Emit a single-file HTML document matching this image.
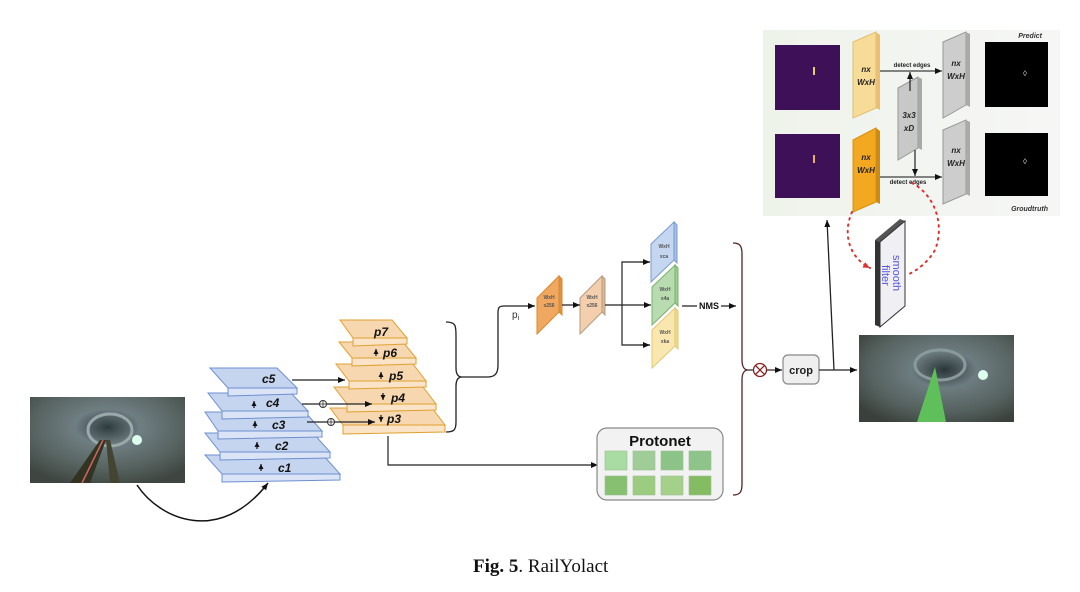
<!DOCTYPE html>
<html><head><meta charset="utf-8"><style>
html,body{margin:0;padding:0;background:#fff;}
svg{display:block;font-family:"Liberation Sans",sans-serif;}
</style></head><body>
<svg width="1080" height="592" viewBox="0 0 1080 592" xmlns="http://www.w3.org/2000/svg">
<defs>
<marker id="ar" markerWidth="8" markerHeight="8" refX="7" refY="4" orient="auto" markerUnits="userSpaceOnUse"><path d="M0,1 L7,4 L0,7 z" fill="#111"/></marker>
<marker id="sa" markerWidth="6" markerHeight="6" refX="5" refY="3" orient="auto" markerUnits="userSpaceOnUse"><path d="M0,0.5 L5,3 L0,5.5 z" fill="#111"/></marker>
<marker id="rr" markerWidth="8" markerHeight="8" refX="7" refY="4" orient="auto" markerUnits="userSpaceOnUse"><path d="M0,1 L7,4 L0,7 z" fill="#e03030"/></marker>
<radialGradient id="tun" cx="0.5" cy="0.35" r="0.7"><stop offset="0" stop-color="#2e3a3e"/><stop offset="0.3" stop-color="#6f7e82"/><stop offset="0.7" stop-color="#56625f"/><stop offset="1" stop-color="#3f4641"/></radialGradient>
<radialGradient id="tun2" cx="0.55" cy="0.4" r="0.7"><stop offset="0" stop-color="#2a3538"/><stop offset="0.3" stop-color="#6d7c80"/><stop offset="0.7" stop-color="#55615e"/><stop offset="1" stop-color="#3a403c"/></radialGradient>
<linearGradient id="pan" x1="0" y1="0" x2="1" y2="0"><stop offset="0" stop-color="#eef3ea"/><stop offset="1" stop-color="#f6f6f6"/></linearGradient>
</defs>

<!-- left photo -->
<rect x="30" y="397" width="155" height="86" fill="url(#tun)"/>
<ellipse cx="110" cy="430" rx="22" ry="16" fill="none" stroke="#9aa" stroke-width="3"/>
<circle cx="137" cy="440" r="5" fill="#dfe"/>
<polygon points="100,440 106,440 90,483 70,483" fill="#332"/>
<polygon points="106,440 110,440 120,483 110,483" fill="#443"/>
<line x1="103" y1="440" x2="82" y2="483" stroke="#c66" stroke-width="1.5"/>
<path d="M137,485 C160,520 220,545 268,483" fill="none" stroke="#111" stroke-width="1.5" marker-end="url(#ar)"/>

<!-- c plates (bottom to top) -->
<g stroke="#6d8fcf" stroke-width="1">
<polygon points="205,455 323,455 340,474 222,474" fill="#c6d5ef"/><polygon points="222,474 340,474 340,480 222,482" fill="#dae4f6"/>
<polygon points="205,433 313,433 330,452 220,452" fill="#c6d5ef"/><polygon points="220,452 330,452 330,458 220,460" fill="#dae4f6"/>
<polygon points="205,412 305,412 322,431 218,431" fill="#c6d5ef"/><polygon points="218,431 322,431 322,437 218,439" fill="#dae4f6"/>
<polygon points="208,393 291,393 308,411 222,411" fill="#c6d5ef"/><polygon points="222,411 308,411 308,417 222,419" fill="#dae4f6"/>
<polygon points="210,368 277,368 297,388 228,388" fill="#c6d5ef"/><polygon points="228,388 297,388 297,394 228,396" fill="#dae4f6"/>
</g>
<g font-weight="bold" font-style="italic" font-size="12" fill="#111">
<text x="262" y="383">c5</text><text x="266" y="407">c4</text><text x="272" y="429">c3</text><text x="275" y="450">c2</text><text x="278" y="472">c1</text>
</g>
<g stroke="#111" stroke-width="1.2">
<line x1="254" y1="408" x2="254" y2="401" marker-end="url(#sa)"/><line x1="255" y1="428" x2="255" y2="421" marker-end="url(#sa)"/><line x1="257" y1="449" x2="257" y2="442" marker-end="url(#sa)"/><line x1="261" y1="471" x2="261" y2="464" marker-end="url(#sa)"/>
</g>

<!-- p plates (bottom to top) -->
<g stroke="#e0a030" stroke-width="1">
<polygon points="330,408 432,408 445,425 343,425" fill="#f6d7b0"/><polygon points="343,425 445,425 445,432 343,434" fill="#fae3c6"/>
<polygon points="334,387 423,387 436,404 347,404" fill="#f6d7b0"/><polygon points="347,404 436,404 436,410 347,412" fill="#fae3c6"/>
<polygon points="336,364 413,364 426,381 349,381" fill="#f6d7b0"/><polygon points="349,381 426,381 426,387 349,389" fill="#fae3c6"/>
<polygon points="339,342 403,342 416,358 352,358" fill="#f6d7b0"/><polygon points="352,358 416,358 416,364 352,366" fill="#fae3c6"/>
<polygon points="340,320 392,320 407,338 353,338" fill="#f6d7b0"/><polygon points="353,338 407,338 407,344 353,346" fill="#fae3c6"/>
</g>
<g font-weight="bold" font-style="italic" font-size="12" fill="#111">
<text x="374" y="336">p7</text><text x="383" y="357">p6</text><text x="389" y="380">p5</text><text x="391" y="402">p4</text><text x="387" y="423">p3</text>
</g>
<g stroke="#111" stroke-width="1.2">
<line x1="376" y1="356" x2="376" y2="349" marker-end="url(#sa)"/><line x1="381" y1="379" x2="381" y2="372" marker-end="url(#sa)"/><line x1="383" y1="393" x2="383" y2="400" marker-end="url(#sa)"/><line x1="381" y1="415" x2="381" y2="422" marker-end="url(#sa)"/>
</g>
<!-- c to p arrows -->
<g stroke="#222" stroke-width="1.2" fill="none">
<line x1="292" y1="380" x2="345" y2="380" marker-end="url(#ar)"/>
<line x1="302" y1="404" x2="372" y2="404" marker-end="url(#ar)"/>
<line x1="307" y1="422" x2="375" y2="422" marker-end="url(#ar)"/>
</g>
<g fill="#fff" stroke="#333" stroke-width="1">
<circle cx="323" cy="404" r="3.5"/><circle cx="331" cy="422" r="3.5"/>
</g>
<g stroke="#333" stroke-width="0.8"><line x1="319.5" y1="404" x2="326.5" y2="404"/><line x1="323" y1="400.5" x2="323" y2="407.5"/><line x1="327.5" y1="422" x2="334.5" y2="422"/><line x1="331" y1="418.5" x2="331" y2="425.5"/></g>

<!-- brace p -->
<path d="M446,322 C456,322 456,326 456,336 L456,368 C456,374 458,377 462,377 C458,377 456,380 456,386 L456,422 C456,430 454,432 446,432" fill="none" stroke="#222" stroke-width="1.3"/>
<path d="M462,377 L488,377 C496,377 498,372 498,365 L498,312 C498,307 500,306 504,306 L535,306" fill="none" stroke="#222" stroke-width="1.3" marker-end="url(#ar)"/>
<text x="512" y="318" font-size="10" fill="#333">p<tspan font-size="7" dy="2">i</tspan></text>

<!-- head blocks -->
<g stroke-width="1">
<polygon points="537,298 559,276 559,312 537,334" fill="#f0a860" stroke="#d98a30"/><polygon points="559,276 562,279 562,315 559,312" fill="#e09040" stroke="#d98a30"/>
<polygon points="580,298 602,276 602,312 580,334" fill="#f3cfae" stroke="#b49a80"/><polygon points="602,276 605,279 605,315 602,312" fill="#e0b896" stroke="#b49a80"/>
<polygon points="651,244 674,222 674,260 651,282" fill="#c4d6f0" stroke="#7a9ad0"/><polygon points="674,222 677,225 677,263 674,260" fill="#a8c0e8" stroke="#7a9ad0"/>
<polygon points="652,287 675,265 675,303 652,325" fill="#b8dcb0" stroke="#7ab070"/><polygon points="675,265 678,268 678,306 675,303" fill="#9ccc90" stroke="#7ab070"/>
<polygon points="652,330 675,308 675,346 652,368" fill="#fae7b0" stroke="#e0c870"/><polygon points="675,308 678,311 678,349 675,346" fill="#f0d890" stroke="#e0c870"/>
</g>
<g font-size="5" font-weight="bold" fill="#555" text-anchor="middle">
<text x="549" y="299">WxH</text><text x="549" y="307">x256</text>
<text x="592" y="299">WxH</text><text x="592" y="307">x256</text>
<text x="664" y="248">WxH</text><text x="664" y="258">xca</text>
<text x="665" y="291">WxH</text><text x="665" y="300">x4a</text>
<text x="665" y="334">WxH</text><text x="665" y="343">xka</text>
</g>
<g stroke="#222" stroke-width="1.2" fill="none">
<line x1="562" y1="305" x2="580" y2="305" marker-end="url(#ar)"/>
<line x1="605" y1="305" x2="651" y2="305" marker-end="url(#ar)"/>
<path d="M650,262 L622,262 L622,345 L650,345" />
<line x1="640" y1="262" x2="650" y2="262" marker-end="url(#ar)"/>
<line x1="640" y1="345" x2="650" y2="345" marker-end="url(#ar)"/>
<line x1="682" y1="306" x2="736" y2="306" marker-end="url(#ar)"/>
</g>
<rect x="697" y="300" width="24" height="11" fill="#fff"/>
<text x="709" y="309" font-size="9" font-weight="bold" text-anchor="middle" fill="#111">NMS</text>

<!-- bottom line to protonet -->
<path d="M388,436 L388,465 L598,465" fill="none" stroke="#222" stroke-width="1.2" marker-end="url(#ar)"/>
<rect x="597" y="428" width="126" height="72" rx="10" fill="#f2f2f2" stroke="#888" stroke-width="1.2"/>
<text x="660" y="446" font-size="15" font-weight="bold" text-anchor="middle" fill="#111">Protonet</text>
<g stroke="#9bbf90" stroke-width="0.6">
<rect x="605" y="451" width="22" height="19" fill="#a8dca2"/><rect x="633" y="451" width="22" height="19" fill="#a0cc98"/><rect x="661" y="451" width="22" height="19" fill="#8cc488"/><rect x="689" y="451" width="22" height="19" fill="#8ec48a"/>
<rect x="605" y="476" width="22" height="19" fill="#86c070"/><rect x="633" y="476" width="22" height="19" fill="#9ccc80"/><rect x="661" y="476" width="22" height="19" fill="#a4d08a"/><rect x="689" y="476" width="22" height="19" fill="#84bc64"/>
</g>

<!-- big brace -->
<path d="M733,243 C740,243 742,246 742,254 L742,360 C742,366 744,370 748,370 C744,370 742,374 742,380 L742,484 C742,492 740,495 733,495" fill="none" stroke="#552222" stroke-width="1.3"/>
<line x1="748" y1="370" x2="753" y2="370" stroke="#222" stroke-width="1.2"/>
<circle cx="760" cy="370" r="6.5" fill="#fff" stroke="#8a2020" stroke-width="1.3"/>
<path d="M755.5,365.5 L764.5,374.5 M764.5,365.5 L755.5,374.5" stroke="#8a2020" stroke-width="1.3"/>
<line x1="767" y1="370" x2="782" y2="370" stroke="#222" stroke-width="1.2" marker-end="url(#ar)"/>
<rect x="783" y="355" width="36" height="29" rx="5" fill="#efefef" stroke="#888" stroke-width="1.2"/>
<text x="801" y="374" font-size="11" font-weight="bold" text-anchor="middle" fill="#222">crop</text>
<line x1="819" y1="370" x2="857" y2="370" stroke="#222" stroke-width="1.2" marker-end="url(#ar)"/>
<line x1="834" y1="370" x2="827" y2="220" stroke="#222" stroke-width="1.3" marker-end="url(#ar)"/>

<!-- right photo -->
<rect x="859" y="335" width="155" height="87" fill="url(#tun2)"/>
<ellipse cx="940" cy="365" rx="25" ry="15" fill="none" stroke="#8a9a9a" stroke-width="3"/>
<circle cx="983" cy="375" r="5" fill="#dfe"/>
<polygon points="935,367 917,422 946,422" fill="#5fbf5a"/>

<!-- top panel -->
<rect x="763" y="30" width="297" height="186" fill="url(#pan)"/>
<rect x="775" y="45" width="65" height="65" fill="#3d1058"/>
<rect x="775" y="134" width="65" height="64" fill="#3d1058"/>
<rect x="813" y="67" width="2" height="8" fill="#e8d060"/><rect x="813" y="155" width="2" height="8" fill="#e8b060"/>
<rect x="985" y="42" width="63" height="65" fill="#000"/>
<rect x="985" y="133" width="63" height="63" fill="#000"/>
<text x="1023" y="76" font-size="8" fill="#ccc">◊</text><text x="1023" y="164" font-size="8" fill="#ccc">◊</text>
<text x="1042" y="38" font-size="7" font-style="italic" font-weight="bold" fill="#333" text-anchor="end">Predict</text>
<text x="1048" y="211" font-size="7" font-style="italic" font-weight="bold" fill="#333" text-anchor="end">Groudtruth</text>
<polygon points="853,42 876,32 876,108 853,118" fill="#f7dc98" stroke="#e0c070"/><polygon points="876,32 880,35 880,110 876,108" fill="#eac070"/>
<polygon points="853,140 876,128 876,202 853,212" fill="#f2a820" stroke="#d89010"/><polygon points="876,128 880,131 880,204 876,202" fill="#d08a10"/>
<polygon points="898,88 918,77 918,148 898,160" fill="#c8c8c8" stroke="#999"/><polygon points="918,77 922,79 922,150 918,148" fill="#a8a8a8"/>
<polygon points="943,42 966,32 966,105 943,118" fill="#cdcdcd" stroke="#999"/><polygon points="966,32 970,34 970,107 966,105" fill="#aaa"/>
<polygon points="943,130 966,120 966,194 943,204" fill="#cdcdcd" stroke="#999"/><polygon points="966,120 970,122 970,196 966,194" fill="#aaa"/>
<g font-size="8" font-style="italic" font-weight="bold" fill="#222" text-anchor="middle">
<text x="866" y="72">nx</text><text x="866" y="85">WxH</text>
<text x="866" y="160">nx</text><text x="866" y="173">WxH</text>
<text x="909" y="118">3x3</text><text x="909" y="131">xD</text>
<text x="956" y="66">nx</text><text x="956" y="79">WxH</text>
<text x="956" y="153">nx</text><text x="956" y="166">WxH</text>
</g>
<g stroke="#111" stroke-width="1.1" fill="none">
<line x1="880" y1="71" x2="942" y2="71" marker-end="url(#ar)"/>
<line x1="880" y1="177" x2="942" y2="177" marker-end="url(#ar)"/>
<line x1="910" y1="91" x2="910" y2="72" marker-end="url(#ar)"/>
<line x1="915" y1="150" x2="915" y2="176" marker-end="url(#ar)"/>
</g>
<g font-size="6" font-weight="bold" fill="#222" text-anchor="middle">
<text x="912" y="67">detect edges</text><text x="908" y="184">detect edges</text>
</g>
<path d="M852,212 C842,235 850,258 870,268" fill="none" stroke="#e03030" stroke-width="2" stroke-dasharray="1.5,5" stroke-linecap="round" marker-end="url(#rr)"/>
<path d="M912,183 C935,195 945,225 935,250 C928,262 918,270 907,275" fill="none" stroke="#e03030" stroke-width="2" stroke-dasharray="1.5,5" stroke-linecap="round"/>
<polygon points="875,240 900,219 905,221 880,242" fill="#555"/>
<polygon points="875,240 880,242 880,327 875,325" fill="#333"/>
<polygon points="880,242 905,221 905,306 880,327" fill="#f0f0f4" stroke="#333" stroke-width="1"/>
<text transform="translate(893,255) rotate(90)" font-size="11" fill="#5555dd">smooth</text>
<text transform="translate(882,265) rotate(90)" font-size="11" fill="#5555dd">filter</text>

<text x="473" y="572" font-family="Liberation Serif, serif" font-size="19" fill="#111"><tspan font-weight="bold">Fig. 5</tspan>. RailYolact</text>
</svg>
</body></html>
